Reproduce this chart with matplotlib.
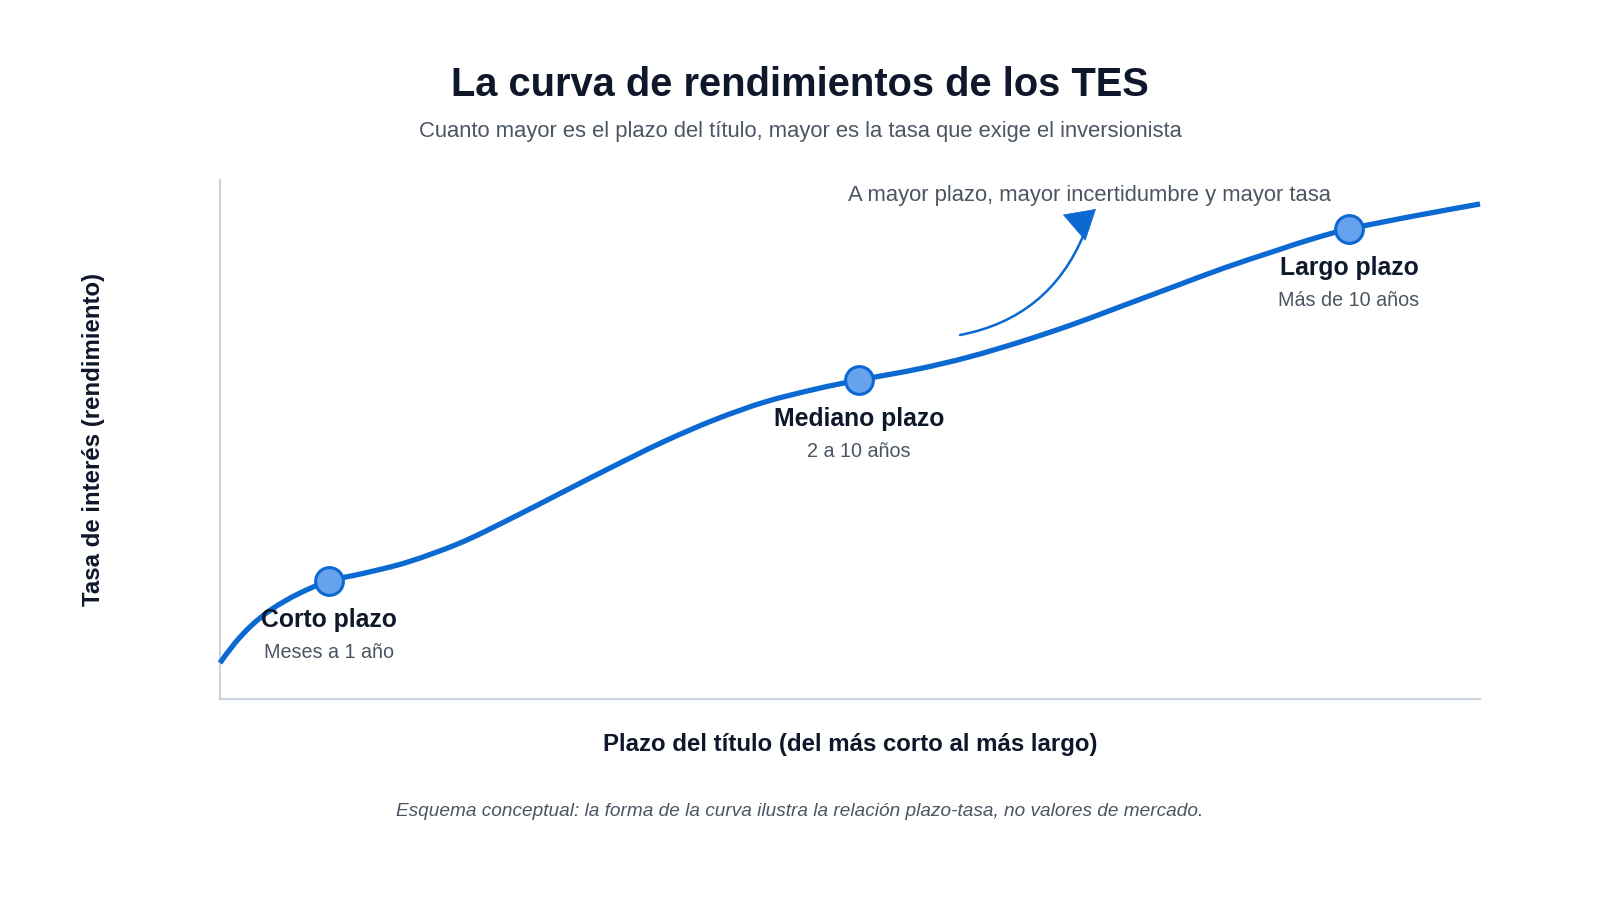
import matplotlib
matplotlib.use("Agg")
import matplotlib.pyplot as plt
from matplotlib.path import Path
from matplotlib.patches import PathPatch

plt.rcParams['font.family'] = ['Liberation Sans', 'DejaVu Sans']

# ---- data (conceptual units, 0-100 on both axes) ----
curve_x = [0, 1.19, 2.54, 4.13, 6.19, 8.65, 11.51, 14.92, 19.05, 23.02, 27.06,
           31.11, 35.16, 39.21, 43.25, 47.30, 50.71, 55.40, 59.44, 63.49, 67.54,
           71.59, 75.63, 79.68, 83.73, 86.67, 89.60, 94.76, 100]
curve_y = [6.94, 10.79, 14.26, 17.34, 20.23, 22.74, 24.28, 26.40, 30.06, 34.68, 39.69,
           44.70, 49.52, 53.76, 57.23, 59.73, 61.46, 63.58, 65.90, 68.79, 72.06,
           75.72, 79.38, 83.04, 86.32, 88.63, 90.56, 93.06, 95.38]

point_x = [8.65, 50.71, 89.60]
point_y = [22.74, 61.46, 90.56]
point_names = ["Corto plazo", "Mediano plazo", "Largo plazo"]
point_desc = ["Meses a 1 año", "2 a 10 años", "Más de 10 años"]

title = "La curva de rendimientos de los TES"
subtitle = "Cuanto mayor es el plazo del título, mayor es la tasa que exige el inversionista"
note = "A mayor plazo, mayor incertidumbre y mayor tasa"
xlabel = "Plazo del título (del más corto al más largo)"
ylabel = "Tasa de interés (rendimiento)"
footnote = "Esquema conceptual: la forma de la curva ilustra la relación plazo-tasa, no valores de mercado."

# ---- style ----
LINE = '#0b69d1'
FACE = '#67a2ee'
DARK = '#0f172a'
GREY = '#4b5563'
AXIS = '#cbd5e1'

fig = plt.figure(figsize=(16, 9), dpi=100)
fig.patch.set_facecolor('white')
ax = fig.add_axes([220/1600, 1-699/900, 1260/1600, 519/900])
ax.set_xlim(0, 100)
ax.set_ylim(0, 100)
ax.set_xticks([])
ax.set_yticks([])
for s in ['top', 'right']:
    ax.spines[s].set_visible(False)
for s in ['left', 'bottom']:
    ax.spines[s].set_color(AXIS)
    ax.spines[s].set_linewidth(1.6)

# smooth rendering of the read points (Catmull-Rom drawn as cubic Bezier path)
pts = list(zip(curve_x, curve_y))
verts = [pts[0]]
codes = [Path.MOVETO]
n = len(pts)
for i in range(n - 1):
    p0 = pts[i - 1] if i > 0 else pts[i]
    p1 = pts[i]
    p2 = pts[i + 1]
    p3 = pts[i + 2] if i + 2 < n else pts[i + 1]
    c1 = (p1[0] + (p2[0] - p0[0]) / 6, p1[1] + (p2[1] - p0[1]) / 6)
    c2 = (p2[0] - (p3[0] - p1[0]) / 6, p2[1] - (p3[1] - p1[1]) / 6)
    verts += [c1, c2, p2]
    codes += [Path.CURVE4] * 3
ax.add_patch(PathPatch(Path(verts, codes), facecolor='none', edgecolor=LINE,
                       lw=3.8, capstyle='butt', joinstyle='round', zorder=3, clip_on=False))

ax.plot(point_x, point_y, 'o', ms=20, mfc=FACE, mec=LINE, mew=2.2, zorder=4, clip_on=False)

for x, y, nme, d in zip(point_x, point_y, point_names, point_desc):
    ax.annotate(nme, (x, y), xytext=(0, -28), textcoords='offset points',
                ha='center', va='center', fontsize=17.8, fontweight='bold', color=DARK, zorder=5)
    ax.annotate(d, (x, y), xytext=(0, -51.5), textcoords='offset points',
                ha='center', va='center', fontsize=14.2, color=GREY, zorder=5)

# annotation arrow: curved shaft + separately oriented head
ax.annotate("", xy=(68.57, 89.60), xytext=(58.73, 70.13),
            arrowprops=dict(arrowstyle='-', color=LINE, lw=1.8,
                            shrinkA=0, shrinkB=0,
                            connectionstyle='arc3,rad=0.27'), zorder=5)
ax.annotate("", xy=(69.52, 94.41), xytext=(67.83, 90.89),
            arrowprops=dict(arrowstyle='-|>,head_length=1.0,head_width=0.6',
                            mutation_scale=20, color=LINE, lw=0.5,
                            shrinkA=0, shrinkB=0), zorder=5)
fig.text(848/1600, 1-195/900, note, ha='left', va='center', fontsize=15.8, color=GREY)

fig.text(0.5, 1-85/900, title, ha='center', va='center', fontsize=28.7,
         fontweight='bold', color=DARK)
fig.text(0.5, 1-131/900, subtitle, ha='center', va='center', fontsize=15.8, color=GREY)
fig.text(850/1600, 1-745/900, xlabel, ha='center', va='center', fontsize=17.3,
         fontweight='bold', color=DARK)
fig.text(94/1600, 1-439/900, ylabel, ha='center', va='center', fontsize=17.3,
         fontweight='bold', color=DARK, rotation=90)
fig.text(0.5, 1-811/900, footnote, ha='center', va='center', fontsize=13.7,
         style='italic', color=GREY)

fig.savefig('out.png', dpi=100, facecolor='white')
